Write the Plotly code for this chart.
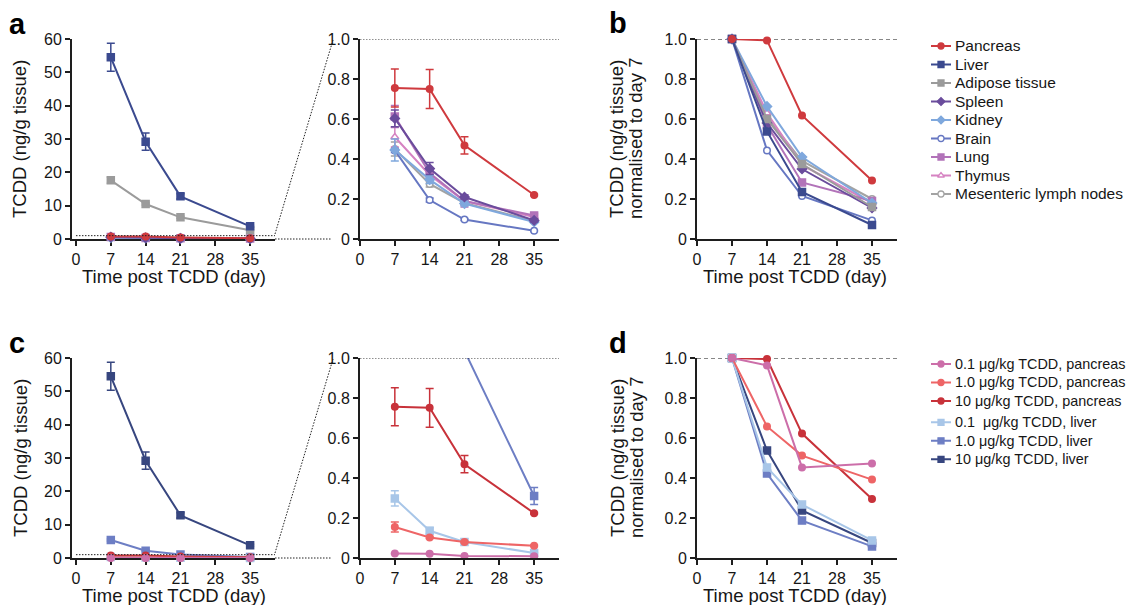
import plotly.graph_objects as go

# ---------------- data ----------------
days = [7, 14, 21, 35]
x_tick_vals = [0, 7, 14, 21, 28, 35]
raw_tick_vals = [0, 10, 20, 30, 40, 50, 60]
frac_tick_vals = [0, 0.2, 0.4, 0.6, 0.8, 1.0]
frac_tick_text = ["0", "0.2", "0.4", "0.6", "0.8", "1.0"]

tissue_names = ["Pancreas", "Liver", "Adipose tissue", "Spleen", "Kidney",
                "Brain", "Lung", "Thymus", "Mesenteric lymph nodes"]

# TCDD (ng/g tissue), 10 ug/kg dose  (mean, error)
pancreas = [0.755, 0.750, 0.468, 0.220]
pancreas_err = [0.095, 0.097, 0.043, 0.004]
liver = [54.5, 29.2, 12.8, 3.8]
liver_err = [4.2, 2.6, 0.8, 0.3]
adipose = [17.6, 10.5, 6.5, 2.6]
adipose_err = [0.9, 0.3, 0.3, 0.2]
spleen = [0.603, 0.352, 0.210, 0.093]
spleen_err = [0.042, 0.030, 0.010, 0.008]
kidney = [0.445, 0.297, 0.177, 0.085]
kidney_err = [0.055, 0.020, 0.012, 0.006]
brain = [0.443, 0.195, 0.097, 0.041]
brain_err = [0.010, 0.010, 0.005, 0.003]
lung = [0.612, 0.330, 0.190, 0.118]
lung_err = [0.055, 0.020, 0.030, 0.010]
thymus = [0.510, 0.320, 0.190, 0.110]
thymus_err = [0.050, 0.020, 0.020, 0.010]
mesenteric = [0.450, 0.275, 0.180, 0.090]
mesenteric_err = [0.035, 0.015, 0.010, 0.005]

# normalised to day 7 (panel b)
pancreas_n = [1.0, 0.993, 0.618, 0.292]
liver_n = [1.0, 0.538, 0.235, 0.070]
adipose_n = [1.0, 0.600, 0.375, 0.160]
spleen_n = [1.0, 0.580, 0.350, 0.155]
kidney_n = [1.0, 0.663, 0.410, 0.180]
brain_n = [1.0, 0.443, 0.215, 0.093]
lung_n = [1.0, 0.570, 0.283, 0.190]
thymus_n = [1.0, 0.630, 0.370, 0.180]
mesenteric_n = [1.0, 0.610, 0.390, 0.200]

dose_names = ["0.1 μg/kg TCDD, pancreas", "1.0 μg/kg TCDD, pancreas",
              "10 μg/kg TCDD, pancreas", "0.1  μg/kg TCDD, liver",
              "1.0 μg/kg TCDD, liver", "10 μg/kg TCDD, liver"]

# TCDD (ng/g tissue) by dose (panel c)
pan01 = [0.022, 0.021, 0.010, 0.009]
pan01_err = [0.002, 0.002, 0.001, 0.001]
pan1 = [0.155, 0.103, 0.080, 0.061]
pan1_err = [0.025, 0.006, 0.004, 0.004]
pan10 = [0.756, 0.751, 0.469, 0.224]
pan10_err = [0.095, 0.097, 0.043, 0.004]
liv01 = [0.298, 0.136, 0.080, 0.025]
liv01_err = [0.038, 0.016, 0.005, 0.004]
liv1 = [5.4, 2.2, 1.036, 0.31]
liv1_err = [0.3, 0.2, 0.03, 0.042]
liv10 = [54.5, 29.2, 12.8, 3.8]
liv10_err = [4.2, 2.6, 0.8, 0.3]

# normalised to day 7 (panel d)
pan01_n = [1.0, 0.963, 0.453, 0.472]
pan1_n = [1.0, 0.658, 0.512, 0.392]
pan10_n = [1.0, 0.995, 0.622, 0.295]
liv01_n = [1.0, 0.453, 0.267, 0.088]
liv1_n = [1.0, 0.422, 0.187, 0.058]
liv10_n = [1.0, 0.537, 0.238, 0.075]

# ---------------- styles ----------------
tissue_raw = [pancreas, liver, adipose, spleen, kidney, brain, lung, thymus, mesenteric]
tissue_err = [pancreas_err, liver_err, adipose_err, spleen_err, kidney_err,
              brain_err, lung_err, thymus_err, mesenteric_err]
tissue_norm = [pancreas_n, liver_n, adipose_n, spleen_n, kidney_n,
               brain_n, lung_n, thymus_n, mesenteric_n]
tissue_colors = ["#cf3a3e", "#3b4a8f", "#9b9b9b", "#6a4c9c", "#7fa8dd",
                 "#6677c2", "#b273b9", "#d683c2", "#a3a3a3"]
tissue_symbols = ["circle", "square", "square", "diamond", "diamond",
                  "circle", "square", "triangle-up", "circle"]
tissue_open = [False, False, False, False, False, True, False, True, True]

dose_raw = [pan01, pan1, pan10, liv01, liv1, liv10]
dose_err = [pan01_err, pan1_err, pan10_err, liv01_err, liv1_err, liv10_err]
dose_norm = [pan01_n, pan1_n, pan10_n, liv01_n, liv1_n, liv10_n]
dose_colors = ["#cc6ea9", "#ee6566", "#c8323a", "#a8c6e8", "#6d7ec4", "#37467f"]
dose_symbols = ["circle", "circle", "circle", "square", "square", "square"]

W, H = 1132, 605
FONT = "Liberation Sans, Arial, Helvetica, sans-serif"
AX = "#1e1e1e"
TXT = "#161616"


def dom_x(l, r):
    return [l / W, r / W]


def dom_y(t, b):
    return [1 - b / H, 1 - t / H]


def px(xp, yp):
    return xp / W, 1 - yp / H


# panel geometry (pixels): left, right, top, bottom
panels = [
    ("", (72, 275, 39, 239), [-0.8, 40], [0, 60], "raw"),
    ("2", (360, 559, 39, 239), [0, 40], [0, 1], "frac"),
    ("3", (697, 897, 39, 239), [0, 40], [0, 1], "frac"),
    ("4", (72, 275, 358, 558), [-0.8, 40], [0, 60], "raw"),
    ("5", (360, 559, 358, 558), [0, 40], [0, 1], "frac"),
    ("6", (697, 897, 358, 558), [0, 40], [0, 1], "frac"),
]

fig = go.Figure()

axis_style = dict(showline=True, linecolor=AX, linewidth=2, ticks="outside",
                  ticklen=5, tickwidth=1.6, tickcolor=AX, showgrid=False,
                  zeroline=False, layer="below traces", fixedrange=True,
                  tickfont=dict(family=FONT, size=16, color=TXT))

layout_axes = {}
for sid, (l, r, t, b), xr, yr, kind in panels:
    xname = "xaxis" + sid
    yname = "yaxis" + sid
    layout_axes[xname] = dict(domain=dom_x(l, r), range=xr, anchor="y" + sid,
                              tickmode="array", tickvals=x_tick_vals, **axis_style)
    if kind == "raw":
        yt = dict(tickmode="array", tickvals=raw_tick_vals)
    else:
        yt = dict(tickmode="array", tickvals=frac_tick_vals, ticktext=frac_tick_text)
    layout_axes[yname] = dict(domain=dom_y(t, b), range=yr, anchor="x" + sid,
                              **yt, **axis_style)

# legend key axes (hidden)
leg1_rows = list(range(len(tissue_names)))
leg2_rows = [i + 0.15 * (i // 3) for i in range(len(dose_names))]
ROW = 18.5
leg1_top = 46 - ROW / 2
leg2_top = 364 - ROW / 2
hidden = dict(visible=False, fixedrange=True, showgrid=False, zeroline=False)
layout_axes["xaxis7"] = dict(domain=dom_x(931, 951), range=[0, 1], anchor="y7", **hidden)
layout_axes["yaxis7"] = dict(domain=dom_y(leg1_top, leg1_top + ROW * len(leg1_rows)),
                             range=[len(leg1_rows) - 0.5, -0.5], anchor="x7", **hidden)
leg2_span = leg2_rows[-1] + 1
layout_axes["xaxis8"] = dict(domain=dom_x(931, 951), range=[0, 1], anchor="y8", **hidden)
layout_axes["yaxis8"] = dict(domain=dom_y(leg2_top, leg2_top + ROW * leg2_span),
                             range=[leg2_span - 0.5, -0.5], anchor="x8", **hidden)


def add_series(sid, y, err, color, symbol, is_open, clip, name):
    mcolor = "white" if is_open else color
    size = 6.5 if symbol == "circle" else 7
    fig.add_trace(go.Scatter(
        x=days, y=y, mode="lines+markers", name=name,
        xaxis="x" + sid, yaxis="y" + sid,
        line=dict(color=color, width=2),
        marker=dict(symbol=symbol, size=size, color=mcolor,
                    line=dict(color=color, width=1.5)),
        error_y=dict(type="data", array=err, color=color, thickness=1.5,
                     width=4, visible=err is not None),
        cliponaxis=clip, showlegend=False, hoverinfo="skip"))


# panel a (left: full range, right: zoom)
for i in reversed(range(len(tissue_names))):
    add_series("", tissue_raw[i], tissue_err[i], tissue_colors[i],
               tissue_symbols[i], tissue_open[i], False, tissue_names[i])
for i in reversed(range(len(tissue_names))):
    add_series("2", tissue_raw[i], tissue_err[i], tissue_colors[i],
               tissue_symbols[i], tissue_open[i], True, tissue_names[i])
# panel b
for i in reversed(range(len(tissue_names))):
    add_series("3", tissue_norm[i], None, tissue_colors[i],
               tissue_symbols[i], tissue_open[i], False, tissue_names[i])
# panel c
for i in reversed(range(len(dose_names))):
    add_series("4", dose_raw[i], dose_err[i], dose_colors[i],
               dose_symbols[i], False, False, dose_names[i])
for i in reversed(range(len(dose_names))):
    add_series("5", dose_raw[i], dose_err[i], dose_colors[i],
               dose_symbols[i], False, True, dose_names[i])
# panel d
for i in reversed(range(len(dose_names))):
    add_series("6", dose_norm[i], None, dose_colors[i],
               dose_symbols[i], False, False, dose_names[i])

annotations = []


def key(sid, row, color, symbol, is_open, name, fsize):
    fig.add_trace(go.Scatter(
        x=[0, 0.5, 1], y=[row, row, row], mode="lines+markers",
        xaxis="x" + sid, yaxis="y" + sid,
        line=dict(color=color, width=2),
        marker=dict(symbol=symbol, size=6, opacity=[0, 1, 0],
                    color="white" if is_open else color,
                    line=dict(color=color, width=1.3)),
        cliponaxis=False, showlegend=False, hoverinfo="skip"))
    annotations.append(dict(x=953 / W, xref="paper", y=row, yref="y" + sid,
                            text=name, showarrow=False, xanchor="left",
                            yanchor="middle",
                            font=dict(family=FONT, size=fsize, color=TXT)))


for i, nm in enumerate(tissue_names):
    key("7", leg1_rows[i], tissue_colors[i], tissue_symbols[i], tissue_open[i], nm, 15.5)
for i, nm in enumerate(dose_names):
    key("8", leg2_rows[i], dose_colors[i], dose_symbols[i], False, nm, 14.4)

# panel letters
for letter, (xp, yp) in zip(["a", "b", "c", "d"], [(7, 24), (607, 23), (7, 343), (607, 343)]):
    xx, yy = px(xp, yp)
    annotations.append(dict(x=xx, y=yy, xref="paper", yref="paper", text="<b>%s</b>" % letter,
                            showarrow=False, xanchor="left", yanchor="middle",
                            font=dict(family=FONT, size=29, color="#000000")))

# axis titles
title_font = dict(family=FONT, size=18.5, color=TXT)
for yc in (139, 458):
    xx, yy = px(20, yc)
    annotations.append(dict(x=xx, y=yy, xref="paper", yref="paper", text="TCDD (ng/g tissue)",
                            textangle=-90, showarrow=False, xanchor="center", yanchor="middle",
                            font=title_font))
    xx, yy = px(617, yc)
    annotations.append(dict(x=xx, y=yy, xref="paper", yref="paper", text="TCDD (ng/g tissue)",
                            textangle=-90, showarrow=False, xanchor="center", yanchor="middle",
                            font=title_font))
    xx, yy = px(636, yc)
    annotations.append(dict(x=xx, y=yy, xref="paper", yref="paper", text="normalised to day 7",
                            textangle=-90, showarrow=False, xanchor="center", yanchor="middle",
                            font=title_font))
for xc in (173.5, 795):
    for yc in (276, 595):
        xx, yy = px(xc, yc)
        annotations.append(dict(x=xx, y=yy, xref="paper", yref="paper",
                                text="Time post TCDD (day)", showarrow=False,
                                xanchor="center", yanchor="middle", font=title_font))

# zoom guide lines and reference lines
shapes = []
dot = dict(color="#222222", width=1, dash="1.5px,1.5px")
for left_id, right_id, y0px, y1px in [("", "2", 239, 39), ("4", "5", 558, 358)]:
    shapes.append(dict(type="line", xref="x" + left_id, yref="y" + left_id,
                       x0=0, x1=40, y0=1, y1=1, line=dot))
    ax0, ay0 = px(275, y0px)
    ax1, ay1 = px(332, y0px)
    shapes.append(dict(type="line", xref="paper", yref="paper",
                       x0=ax0, y0=ay0, x1=ax1, y1=ay1, line=dot))
    bx0, by0 = px(275, y0px - 5)
    bx1, by1 = px(333, y1px + 1)
    shapes.append(dict(type="line", xref="paper", yref="paper",
                       x0=bx0, y0=by0, x1=bx1, y1=by1, line=dot))
    shapes.append(dict(type="line", xref="x" + right_id, yref="y" + right_id,
                       x0=0, x1=40, y0=1, y1=1, line=dot))
for sid in ("3", "6"):
    shapes.append(dict(type="line", xref="x" + sid, yref="y" + sid, x0=0, x1=40,
                       y0=1, y1=1, layer="below",
                       line=dict(color="#111111", width=1.2, dash="4px,3px")))

fig.update_layout(
    width=W, height=H, autosize=False,
    margin=dict(l=0, r=0, t=0, b=0, autoexpand=False),
    paper_bgcolor="white", plot_bgcolor="white",
    font=dict(family=FONT, color=TXT),
    showlegend=False,
    annotations=annotations, shapes=shapes,
    **layout_axes,
)

fig.write_html("out.html", config={"displayModeBar": False},
               post_script="document.body.style.margin='0';")
